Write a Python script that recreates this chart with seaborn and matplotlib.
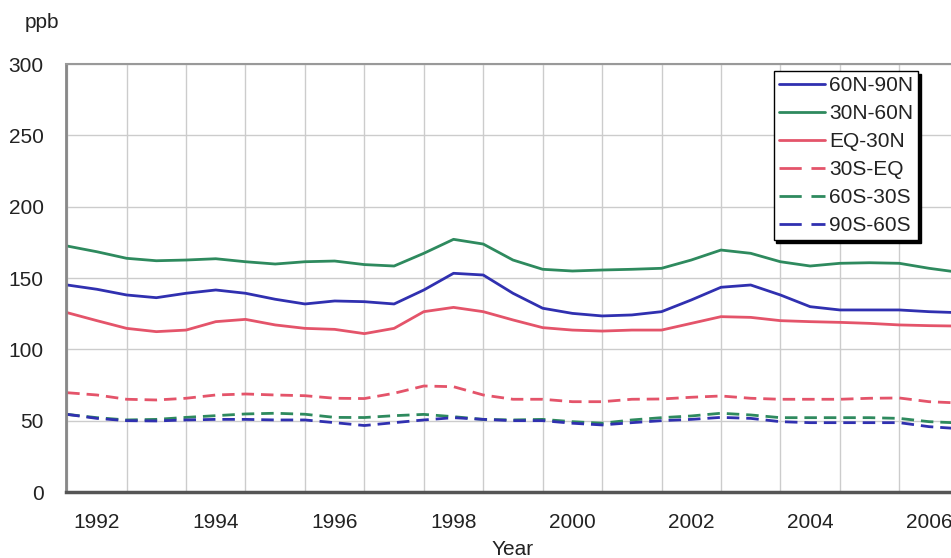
import pandas as pd
import seaborn as sns
import matplotlib.pyplot as plt

# half-year sample points
years = [1991.5, 1992.0, 1992.5, 1993.0, 1993.5, 1994.0, 1994.5, 1995.0,
         1995.5, 1996.0, 1996.5, 1997.0, 1997.5, 1998.0, 1998.5, 1999.0,
         1999.5, 2000.0, 2000.5, 2001.0, 2001.5, 2002.0, 2002.5, 2003.0,
         2003.5, 2004.0, 2004.5, 2005.0, 2005.5, 2006.0, 2006.5]

n60_90 = [145.1, 142.1, 138.1, 136.2, 139.3, 141.6, 139.3, 135.1, 131.8, 133.9, 133.4,
          131.8, 141.6, 153.3, 152.1, 139.3, 128.8, 125.2, 123.4, 124.1, 126.4, 134.6,
          143.5, 145.1, 138.1, 129.9, 127.6, 127.6, 127.6, 126.4, 125.7]
n30_60 = [172.4, 168.4, 163.8, 162.1, 162.6, 163.5, 161.4, 159.8, 161.4, 161.9, 159.4,
          158.4, 167.3, 177.1, 173.8, 162.6, 156.1, 154.9, 155.6, 156.1, 156.8, 162.6,
          169.6, 167.3, 161.4, 158.4, 160.3, 160.7, 160.3, 156.8, 154.0]
eq_30n = [125.7, 120.1, 114.7, 112.4, 113.5, 119.4, 121.0, 117.1, 114.7, 114.0, 111.0,
          114.7, 126.4, 129.4, 126.4, 120.6, 115.2, 113.5, 112.8, 113.5, 113.5, 118.2,
          122.9, 122.4, 120.1, 119.4, 118.9, 118.2, 117.1, 116.6, 116.3]
s30_eq = [69.6, 68.0, 65.0, 64.5, 65.7, 68.0, 68.7, 68.0, 67.5, 65.7, 65.5,
          69.2, 74.3, 73.8, 68.0, 65.0, 65.0, 63.3, 63.3, 65.0, 65.2, 66.4,
          67.3, 65.7, 65.0, 65.0, 65.0, 65.7, 65.9, 63.3, 62.4]
s60_30 = [54.4, 52.1, 50.5, 50.9, 52.3, 53.5, 54.7, 55.2, 54.5, 52.3, 52.2,
          53.5, 54.4, 52.8, 50.9, 50.5, 50.9, 49.3, 48.2, 50.5, 52.1, 53.3,
          55.2, 54.0, 52.1, 52.1, 52.1, 52.1, 51.6, 49.3, 48.4]
s90_60 = [54.4, 51.6, 50.0, 49.8, 50.5, 50.9, 50.9, 50.5, 50.5, 48.6, 46.6,
          48.6, 50.5, 52.1, 50.9, 50.0, 50.0, 48.2, 47.0, 48.6, 50.0, 50.9,
          52.3, 51.6, 49.3, 48.6, 48.6, 48.6, 48.6, 45.8, 44.4]

regions = ["60N-90N", "30N-60N", "EQ-30N", "30S-EQ", "60S-30S", "90S-60S"]
series = [n60_90, n30_60, eq_30n, s30_eq, s60_30, s90_60]
xtick_years = [1992, 1994, 1996, 1998, 2000, 2002, 2004, 2006]

blue, green, red = "#3030b0", "#2e8a5e", "#e4546a"
palette = {"60N-90N": blue, "30N-60N": green, "EQ-30N": red,
           "30S-EQ": red, "60S-30S": green, "90S-60S": blue}
dashes = {"60N-90N": "", "30N-60N": "", "EQ-30N": "",
          "30S-EQ": (4.5, 2.5), "60S-30S": (4.5, 2.5), "90S-60S": (4.5, 2.5)}

rows = []
for name, vals in zip(regions, series):
    for yr, v in zip(years, vals):
        rows.append({"Year": yr, "ppb": v, "Region": name})
df = pd.DataFrame(rows)

sns.set_theme(style="white")
plt.rcParams['font.family'] = ['Liberation Sans', 'DejaVu Sans']

fig = plt.figure(figsize=(9.51, 5.58), dpi=100)
ax = fig.add_axes([66 / 951, 66 / 558, 885 / 951, 428 / 558])

sns.lineplot(data=df, x="Year", y="ppb", hue="Region", style="Region",
             hue_order=regions, style_order=regions, palette=palette,
             dashes=dashes, linewidth=2, ax=ax)

ax.set_xlim(1991.48, 2006.37)
ax.set_ylim(0, 300)
ax.set_xticks(xtick_years)
ax.set_xticklabels([str(y) for y in xtick_years])
ax.set_xticks([y + 0.5 for y in range(1991, 2006)], minor=True)
ax.set_yticks([0, 50, 100, 150, 200, 250, 300])
ax.tick_params(axis="both", which="both", length=0, labelsize=15, colors="#222222")
ax.tick_params(axis="y", pad=16)
ax.tick_params(axis="x", pad=15)

ax.grid(False)
ax.xaxis.grid(True, which="minor", color="#cccccc", linewidth=1)
ax.yaxis.grid(True, which="major", color="#cccccc", linewidth=1)
ax.set_axisbelow(True)

ax.spines["right"].set_visible(False)
ax.spines["top"].set_color("#999999")
ax.spines["top"].set_linewidth(1.5)
ax.spines["left"].set_color("#888888")
ax.spines["left"].set_linewidth(2)
ax.spines["bottom"].set_color("#555555")
ax.spines["bottom"].set_linewidth(2.5)

ax.set_ylabel("")
ax.set_xlabel("Year", fontsize=15, color="#222222")
ax.xaxis.set_label_coords((513 - 66) / 885, (492 - 540) / 428)

handles, labels = ax.get_legend_handles_labels()
leg = ax.legend(handles, labels, loc="upper right", bbox_to_anchor=(0.963, 0.984),
                borderaxespad=0, fontsize=15, handlelength=2.2, handletextpad=0.2,
                borderpad=0.25, labelspacing=0.43, frameon=True, fancybox=False,
                shadow={"color": "black", "alpha": 1.0}, edgecolor="black")
leg.get_frame().set_linewidth(1)
for t in leg.get_texts():
    t.set_color("#222222")
for ln in leg.get_lines()[3:]:
    ln.set_dashes((8, 3.5))

fig.text(25 / 951, 1 - 23 / 558, "ppb", fontsize=15, color="#222222",
         ha="left", va="center")

fig.savefig("out.png", dpi=100)
